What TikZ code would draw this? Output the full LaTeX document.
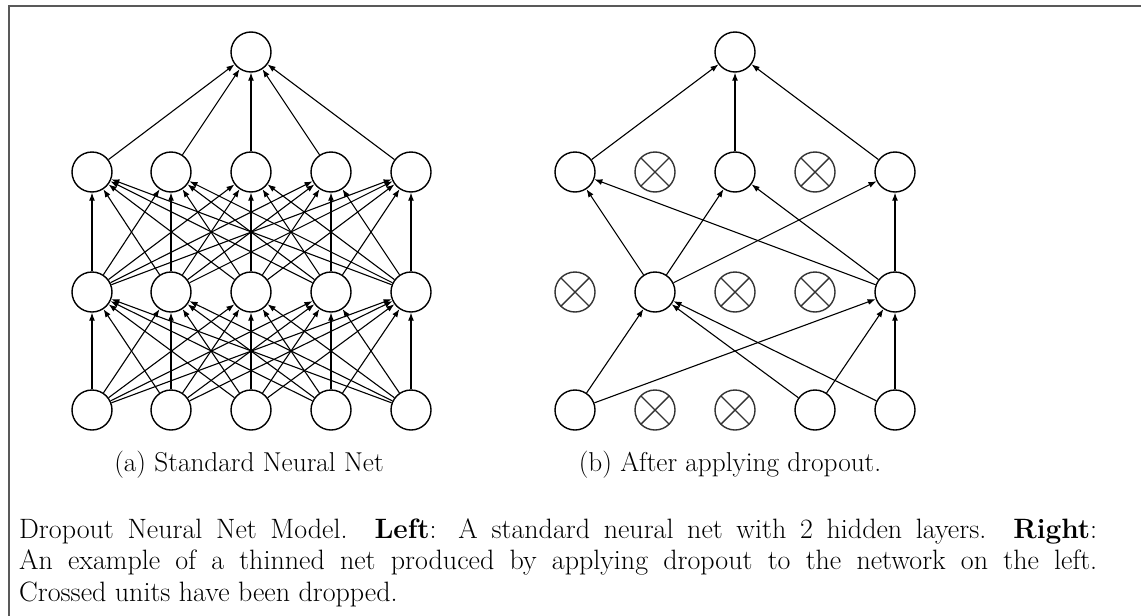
\documentclass[tikz,border=0pt]{standalone}
\usetikzlibrary{arrows.meta}
\begin{document}
\begin{tikzpicture}[x=1pt,y=-1pt,
  unit/.style={circle, draw=black, line width=1.4pt, minimum size=40pt, inner sep=0pt},
  dropped/.style={unit, draw=black!80, path picture={\draw[line width=1.4pt, black!80]
      (path picture bounding box.north west) -- (path picture bounding box.south east)
      (path picture bounding box.north east) -- (path picture bounding box.south west);}},
  conn/.style={line width=1.1pt, -{Latex[length=8pt,width=6pt]}},
  frame/.style={line width=1.2pt, black!65},
  subcap/.style={anchor=base, inner sep=0pt, font=\fontsize{27.3}{32}\selectfont},
  captext/.style={anchor=north west, inner sep=0pt, text width=1078pt, align=justify,
      font=\fontsize{28}{31.7}\selectfont}]
\useasboundingbox (0,0) rectangle (1141,616);
\fill[white] (0,0) rectangle (1141,616);
\draw[frame] (9,616) -- (9,6) -- (1141,6);
% ---------- left network ----------
\node[unit] (Lo) at (251,52) {};
\foreach \x [count=\i] in {92,171,251,331,411} {
  \node[unit] (La\i) at (\x,410) {};
  \node[unit] (Lb\i) at (\x,292) {};
  \node[unit] (Lc\i) at (\x,172) {};
}
\foreach \i in {1,...,5} {
  \foreach \j in {1,...,5} {
    \draw[conn] (La\i) -- (Lb\j);
    \draw[conn] (Lb\i) -- (Lc\j);
  }
  \draw[conn] (Lc\i) -- (Lo);
}
% ---------- right network ----------
\node[unit] (Ro) at (735,52) {};
\node[unit] (Ra1) at (575,410) {};
\node[dropped] (Ra2) at (655,410) {};
\node[dropped] (Ra3) at (735,410) {};
\node[unit] (Ra4) at (815,410) {};
\node[unit] (Ra5) at (895,410) {};
\node[dropped] (Rb1) at (575,292) {};
\node[unit] (Rb2) at (655,292) {};
\node[dropped] (Rb3) at (735,292) {};
\node[dropped] (Rb4) at (815,292) {};
\node[unit] (Rb5) at (895,292) {};
\node[unit] (Rc1) at (575,172) {};
\node[dropped] (Rc2) at (655,172) {};
\node[unit] (Rc3) at (735,172) {};
\node[dropped] (Rc4) at (815,172) {};
\node[unit] (Rc5) at (895,172) {};
\foreach \i in {1,4,5} {
  \foreach \j in {2,5} { \draw[conn] (Ra\i) -- (Rb\j); }
}
\foreach \i in {2,5} {
  \foreach \j in {1,3,5} { \draw[conn] (Rb\i) -- (Rc\j); }
}
\foreach \i in {1,3,5} { \draw[conn] (Rc\i) -- (Ro); }
% ---------- captions ----------
\node[subcap] (capa) at (249,471) {(a) Standard Neural Net};
\node[subcap] (capb) at (730,471) {(b) After applying dropout.};
\node[captext] (para) at (19,518) {Dropout Neural Net Model. \textbf{Left}: A standard neural net with 2 hidden layers. \textbf{Right}:\linebreak
An example of a thinned net produced by applying dropout to the network on the left.\linebreak
Crossed units have been dropped.};
\end{tikzpicture}
\end{document}
